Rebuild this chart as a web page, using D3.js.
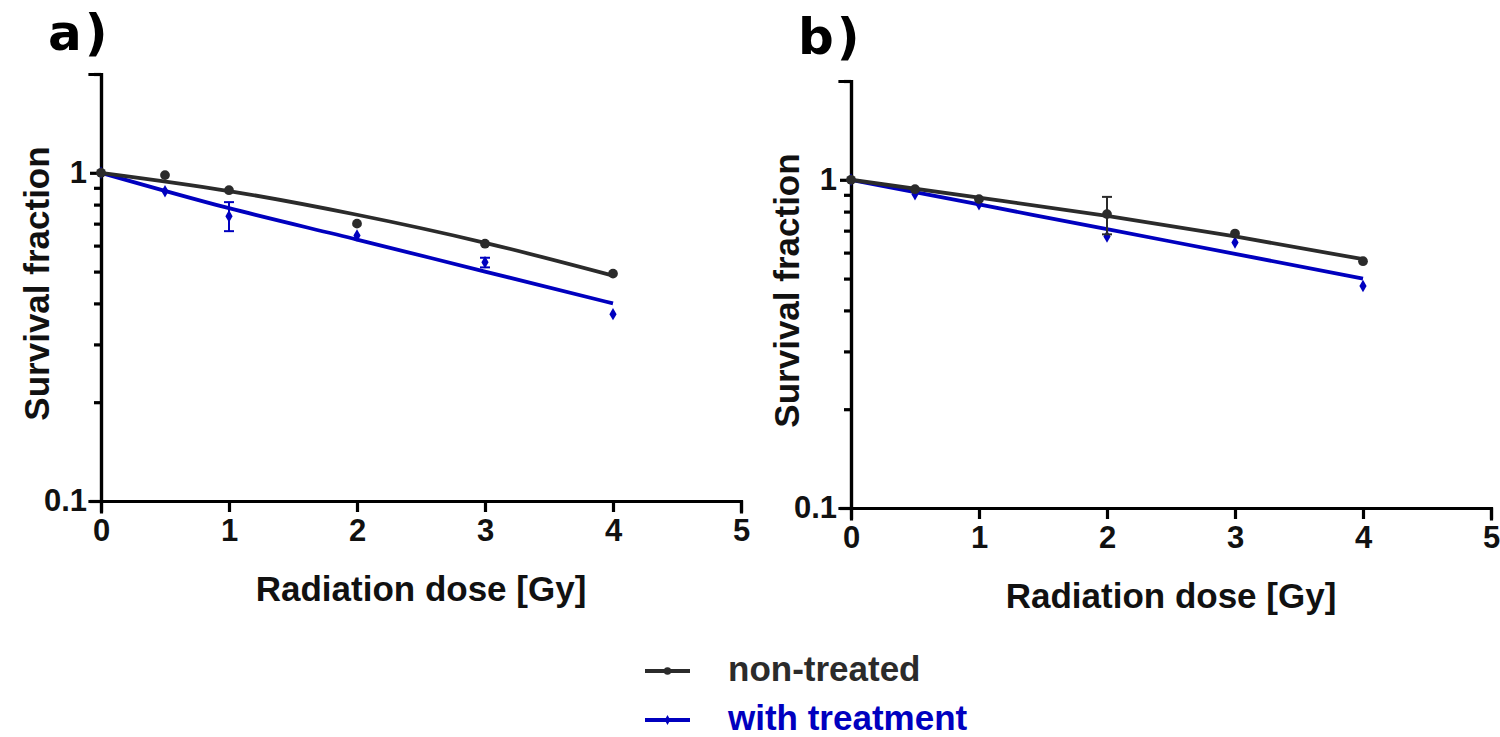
<!DOCTYPE html>
<html>
<head>
<meta charset="utf-8">
<script src="https://cdn.jsdelivr.net/npm/d3@7"></script>
<style>
  body { margin: 0; background: #fff; }
  .axisTitle { font-family: 'Liberation Sans', Arial, sans-serif; font-weight: bold; font-size: 35px; fill: #111; }
  .panelLabel { font-family: 'DejaVu Sans', Verdana, sans-serif; font-weight: bold; font-size: 50px; letter-spacing: 3px; fill: #000; }
  .legendText { font-family: 'Liberation Sans', Arial, sans-serif; font-weight: bold; font-size: 35px; }
</style>
</head>
<body>
<svg id="svg_survival" width="1500" height="737"></svg>
<script>
console.log('Survival')

// doses [Gy]
const doses = [0, 0.5, 1, 2, 3, 4]
const xTicks = [0, 1, 2, 3, 4, 5]
const yMajor = [0.1, 1]
const yMinor = [0.2, 0.3, 0.4, 0.5, 0.6, 0.7, 0.8, 0.9, 2]

// panel a) measured means and error (low, high)
const aControl = [1, 0.984, 0.885, 0.70, 0.608, 0.493]
const aControlLo = [1, 0.984, 0.885, 0.70, 0.608, 0.493]
const aControlHi = [1, 0.984, 0.885, 0.70, 0.608, 0.493]
const aTreated = [1, 0.879, 0.737, 0.644, 0.534, 0.371]
const aTreatedLo = [1, 0.879, 0.664, 0.644, 0.515, 0.371]
const aTreatedHi = [1, 0.879, 0.814, 0.644, 0.551, 0.371]

// panel b) measured means and error (low, high)
const bControl = [1, 0.936, 0.873, 0.786, 0.686, 0.565]
const bControlLo = [1, 0.936, 0.873, 0.682, 0.686, 0.565]
const bControlHi = [1, 0.936, 0.873, 0.887, 0.686, 0.565]
const bTreated = [1, 0.904, 0.843, 0.672, 0.644, 0.475]
const bTreatedLo = [1, 0.904, 0.843, 0.672, 0.644, 0.475]
const bTreatedHi = [1, 0.904, 0.843, 0.672, 0.644, 0.475]

// fitted curves
const fitDoses = [0, 1, 2, 3, 4]
const aControlFit = [1, 0.88, 0.745, 0.612, 0.486]
const aTreatedFit = [1, 0.78, 0.626, 0.50, 0.40]
const bControlFit = [1, 0.883, 0.776, 0.672, 0.573]
const bTreatedFit = [1, 0.841, 0.707, 0.595, 0.50]

const seriesNames = ['non-treated', 'with treatment']
const seriesColors = ['#2b2b2b', '#0000bf']

const svg = d3.select('#svg_survival')

const styleTicks = (sel) => {
  sel.selectAll('.tick text')
    .style('font-family', "'Liberation Sans Narrow', 'Liberation Sans', Arial, sans-serif")
    .style('font-weight', 'bold')
    .style('font-size', '31px')
    .style('fill', '#111')
}

const drawPanel = (opts) => {
  const g = svg.append('g').attr('transform', `translate(${opts.left}, ${opts.top})`)
  const width = 640
  const height = 427

  const x = d3.scaleLinear().domain([0, 5]).range([0, width])
  const y = d3.scaleLog().domain([0.1, 2]).range([height, 0])

  // y axis: major + minor ticks
  g.append('g')
    .call(d3.axisLeft(y).tickValues(yMajor).tickFormat(d3.format('')).tickSize(11).tickPadding(3))
    .call(styleTicks)
  g.append('g')
    .call(d3.axisLeft(y).tickValues(yMinor).tickFormat('').tickSize(7))

  g.append('g')
    .attr('transform', `translate(0, ${height})`)
    .call(d3.axisBottom(x).tickValues(xTicks).tickFormat(d3.format('d')).tickSize(11).tickPadding(7))
    .call(styleTicks)

  g.selectAll('.domain, .tick line')
    .attr('stroke', '#000')
    .attr('stroke-width', 3.2)
  g.selectAll('.domain').attr('stroke-linecap', 'square')

  const line = d3.line()
    .x((d) => x(d[0]))
    .y((d) => y(d[1]))
    .curve(d3.curveMonotoneX)

  const series = [
    { fit: opts.treatedFit, vals: opts.treated, lo: opts.treatedLo, hi: opts.treatedHi, color: seriesColors[1], shape: d3.symbolDiamond, size: 45 },
    { fit: opts.controlFit, vals: opts.control, lo: opts.controlLo, hi: opts.controlHi, color: seriesColors[0], shape: d3.symbolCircle, size: 75 }
  ]

  series.forEach((s) => {
    g.append('path')
      .datum(fitDoses.map((d, i) => [d, s.fit[i]]))
      .attr('d', line)
      .attr('fill', 'none')
      .attr('stroke', s.color)
      .attr('stroke-width', 3.8)
  })

  series.forEach((s) => {
    const bars = g.append('g')
    const errData = doses.map((d, i) => ({ d, lo: s.lo[i], hi: s.hi[i] })).filter((e) => e.hi > e.lo)
    bars.selectAll('line.err')
      .data(errData)
      .enter()
      .append('line')
      .attr('x1', (e) => x(e.d))
      .attr('x2', (e) => x(e.d))
      .attr('y1', (e) => y(e.lo))
      .attr('y2', (e) => y(e.hi))
      .attr('stroke', s.color)
      .attr('stroke-width', 2)
    ;['lo', 'hi'].forEach((k) => {
      bars.selectAll(`line.cap${k}`)
        .data(errData)
        .enter()
        .append('line')
        .attr('x1', (e) => x(e.d) - 5)
        .attr('x2', (e) => x(e.d) + 5)
        .attr('y1', (e) => y(e[k]))
        .attr('y2', (e) => y(e[k]))
        .attr('stroke', s.color)
        .attr('stroke-width', 2)
    })

    g.append('g')
      .selectAll('path')
      .data(doses.map((d, i) => [d, s.vals[i]]))
      .enter()
      .append('path')
      .attr('d', d3.symbol().type(s.shape).size(s.size))
      .attr('transform', (d) => `translate(${x(d[0])}, ${y(d[1])})`)
      .attr('fill', s.color)
  })

  g.append('text')
    .attr('class', 'axisTitle')
    .attr('text-anchor', 'middle')
    .attr('x', width / 2)
    .attr('y', height + 100)
    .text('Radiation dose [Gy]')

  g.append('text')
    .attr('class', 'axisTitle')
    .attr('text-anchor', 'middle')
    .attr('transform', `translate(${-52}, ${height / 2 - 4}) rotate(-90)`)
    .text('Survival fraction')

  svg.append('text')
    .attr('class', 'panelLabel')
    .attr('x', opts.labelX)
    .attr('y', opts.labelY)
    .text(opts.label)
}

drawPanel({
  left: 101, top: 74, label: 'a)', labelX: 48, labelY: 50,
  control: aControl, controlLo: aControlLo, controlHi: aControlHi, controlFit: aControlFit,
  treated: aTreated, treatedLo: aTreatedLo, treatedHi: aTreatedHi, treatedFit: aTreatedFit
})

drawPanel({
  left: 851, top: 81, label: 'b)', labelX: 798, labelY: 54,
  control: bControl, controlLo: bControlLo, controlHi: bControlHi, controlFit: bControlFit,
  treated: bTreated, treatedLo: bTreatedLo, treatedHi: bTreatedHi, treatedFit: bTreatedFit
})

// legend
const legend = svg.append('g').attr('transform', 'translate(645, 671)')
const shapes = [d3.symbolCircle, d3.symbolDiamond]
const sizes = [45, 28]

legend.selectAll('line')
  .data(seriesNames)
  .enter()
  .append('line')
  .attr('x1', 0)
  .attr('x2', 45)
  .attr('y1', (d, i) => i * 49)
  .attr('y2', (d, i) => i * 49)
  .attr('stroke', (d, i) => seriesColors[i])
  .attr('stroke-width', 3.8)

legend.selectAll('path')
  .data(seriesNames)
  .enter()
  .append('path')
  .attr('d', (d, i) => d3.symbol().type(shapes[i]).size(sizes[i])())
  .attr('transform', (d, i) => `translate(22.5, ${i * 49})`)
  .attr('fill', (d, i) => seriesColors[i])

legend.selectAll('text')
  .data(seriesNames)
  .enter()
  .append('text')
  .attr('class', 'legendText')
  .attr('x', 83)
  .attr('y', (d, i) => i * 49 + 10)
  .attr('fill', (d, i) => seriesColors[i])
  .text((d) => d)
</script>
</body>
</html>
